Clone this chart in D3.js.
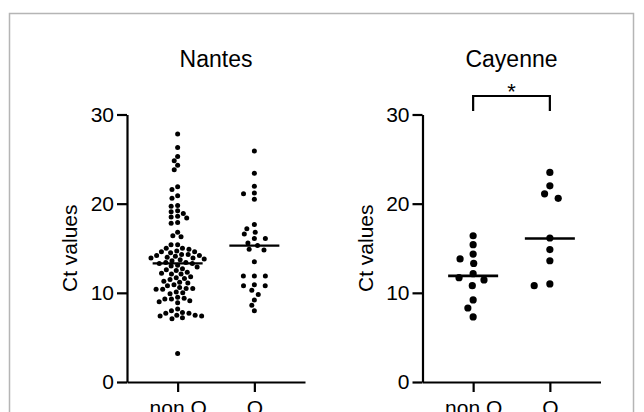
<!DOCTYPE html>
<html>
<head>
<meta charset="utf-8">
<script src="https://cdn.jsdelivr.net/npm/d3@7"></script>
<style>
	body { margin: 0; background: #fff; }
	text { font-family: "Liberation Sans", Arial, sans-serif; fill: #000; }
</style>
</head>
<body>
<script>
//categories and values
var groups = ["non O", "O"];
var yTicks = [0, 10, 20, 30];

var nantesNonO = [27.8, 26.3, 25.3, 24.8, 24.3, 23.8,
	21.9, 21.6, 20.9, 20.6, 19.8, 19.7, 19.2, 19.1, 18.9, 18.6, 18.5, 18.4, 17.9, 17.8, 16.8,
	16.4, 16.3, 15.4, 15.4, 15.0, 15.0, 14.9, 14.7, 14.6, 14.6, 14.5, 14.3, 14.3, 14.2, 14.2, 14.1, 14.0,
	13.9, 13.9, 13.8, 13.7, 13.6, 13.4, 13.4, 13.3, 13.3, 13.1, 13.0, 12.9, 12.7, 12.6, 12.5,
	12.3, 12.2, 12.1, 12.1, 11.8, 11.7, 11.6, 11.5, 11.3, 11.2, 11.1,
	10.9, 10.8, 10.6, 10.5, 10.5, 10.4, 10.4, 10.1, 10.0, 9.9, 9.5, 9.4, 9.3, 9.3, 9.1, 9.0, 8.9,
	8.2, 8.0, 7.8, 7.7, 7.7, 7.5, 7.5, 7.4, 7.4, 7.2, 7.1, 3.2];
var nantesO = [25.9, 23.4, 21.95, 21.2, 21.1, 20.5, 17.65, 17.2, 16.8, 16.6, 16.1, 16.1, 15.6,
	15.3, 14.9, 14.8, 13.5, 11.9, 11.9, 11.9, 10.9, 10.8, 10.8, 10.3, 9.8, 9.2, 8.6, 8.0];
var cayenneNonO = [16.4, 15.4, 14.35, 13.8, 13.3, 12.15, 11.7, 11.45, 10.8, 9.2, 8.3, 7.3];
var cayenneO = [23.5, 22.0, 21.1, 20.6, 16.15, 14.85, 13.6, 11.0, 10.8];
var nantesMedians = [13.3, 15.3];
var cayenneMedians = [11.9, 16.1];

var w = 644, h = 412;

var svg = d3.select("body")
	.append("svg")
	.attr("width", w)
	.attr("height", h);

//grey frame round the figure
svg.append("rect")
	.attr("x", 9.5)
	.attr("y", 13.5)
	.attr("width", 624)
	.attr("height", 430)
	.style("fill", "none")
	.style("stroke", "#b5b5b5")
	.style("stroke-width", 1.5);

var yScale = d3.scaleLinear()
	.domain([0, 30])
	.range([382, 114.5]);

//simple beeswarm: put each dot as near the centre as it can go without touching
function swarm(values, dx, dy) {
	var placed = [];
	values.slice().sort(function(a, b){ return b - a; }).forEach(function(v){
		var py = yScale(v);
		var forb = [];
		placed.forEach(function(p){
			var d = Math.abs(p.y - py);
			if (d < dy) {
				var hw = dx * Math.sqrt(1 - (d / dy) * (d / dy));
				forb.push([p.x - hw, p.x + hw]);
			}
		});
		var cands = [0];
		forb.forEach(function(f){ cands.push(f[0], f[1]); });
		cands.sort(function(a, b){ return Math.abs(a) - Math.abs(b) || a - b; });
		var x = cands.find(function(c){
			return forb.every(function(f){ return c <= f[0] + 1e-6 || c >= f[1] - 1e-6; });
		});
		placed.push({v: v, x: x, y: py});
	});
	return placed;
}

var panels = [
	{title: "Nantes", x0: 127, sets: [nantesNonO, nantesO], medians: nantesMedians, r: 2.5,
		spread: [[6.6, 5.2], [11, 5.5]], lw: 2.4},
	{title: "Cayenne", x0: 422.5, sets: [cayenneNonO, cayenneO], medians: cayenneMedians, r: 3.6,
		spread: [[16, 8.5], [16, 8.5]], lw: 2.6, star: true}
];

panels.forEach(function(p){
	var xScale = d3.scalePoint()
		.domain(groups)
		.range([p.x0, p.x0 + 178])
		.padding(0.66);

	var g = svg.append("g").attr("class", "panel");

	//y axis
	var yAxis = d3.axisLeft(yScale)
		.tickValues(yTicks)
		.tickSize(10)
		.tickSizeOuter(0)
		.tickPadding(3);
	var ya = g.append("g")
		.attr("transform", "translate(" + p.x0 + ",0)")
		.call(yAxis);

	//x axis
	var xAxis = d3.axisBottom(xScale)
		.tickSize(10)
		.tickSizeOuter(0)
		.tickPadding(8);
	var xa = g.append("g")
		.attr("transform", "translate(0," + yScale(0) + ")")
		.call(xAxis);

	[ya, xa].forEach(function(a){
		a.selectAll("path, line").style("stroke", "#000").style("stroke-width", 2.2);
		a.selectAll("text").style("font-size", "21px").style("font-family", "'Liberation Sans', Arial, sans-serif");
	});

	//axis title
	g.append("text")
		.attr("transform", "translate(" + (p.x0 - 50) + "," + yScale(15) + ") rotate(-90)")
		.attr("text-anchor", "middle")
		.style("font-size", "21px")
		.text("Ct values");

	//panel title
	g.append("text")
		.attr("x", (xScale(groups[0]) + xScale(groups[1])) / 2)
		.attr("y", 67)
		.attr("text-anchor", "middle")
		.style("font-size", "23px")
		.text(p.title);

	//dots
	p.sets.forEach(function(vals, i){
		var cx = xScale(groups[i]);
		g.selectAll(".dot" + i)
			.data(swarm(vals, p.spread[i][0], p.spread[i][1]))
			.enter()
			.append("circle")
			.attr("cx", function(d){ return cx + d.x; })
			.attr("cy", function(d){ return d.y; })
			.attr("r", p.r)
			.style("fill", "#000");
	});

	//median lines
	g.selectAll(".med")
		.data(p.medians)
		.enter()
		.append("line")
		.attr("x1", function(d, i){ return xScale(groups[i]) - 25; })
		.attr("x2", function(d, i){ return xScale(groups[i]) + 25; })
		.attr("y1", function(d){ return yScale(d); })
		.attr("y2", function(d){ return yScale(d); })
		.style("stroke", "#000")
		.style("stroke-width", p.lw);

	//significance bracket
	if (p.star) {
		var bx0 = xScale(groups[0]), bx1 = xScale(groups[1]);
		g.append("path")
			.attr("d", "M" + bx0 + ",111V96H" + bx1 + "V111")
			.style("fill", "none")
			.style("stroke", "#000")
			.style("stroke-width", 2.2);
		g.append("text")
			.attr("x", (bx0 + bx1) / 2)
			.attr("y", 99)
			.attr("text-anchor", "middle")
			.style("font-size", "22px")
			.text("*");
	}
});
</script>
</body>
</html>
